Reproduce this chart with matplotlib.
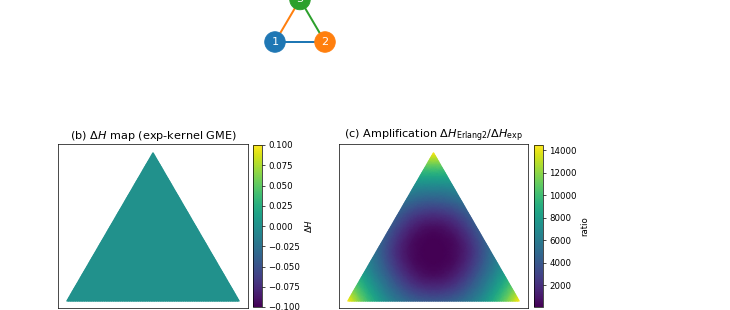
import numpy as np
import matplotlib
matplotlib.use('Agg')
import matplotlib.pyplot as plt
import matplotlib.tri as mtri

# (a) 3-node graph
node_labels = ['1', '2', '3']
node_x = [0.0, 1.0, 0.5]
node_y = [0.0, 0.0, 0.85]
node_colors = ['#1f77b4', '#ff7f0e', '#2ca02c']
edges = [(0, 1), (0, 2), (1, 2)]
edge_colors = ['#1f77b4', '#ff7f0e', '#2ca02c']

# simplex lattice (6 subdivisions), rows from bottom edge to top vertex
n_sub = 6
# (b) Delta H, exp-kernel GME: zero everywhere
dH_vals = [0.0] * 28
# (c) amplification ratio
ratio_vals = [
    14450, 8500, 5100, 4000, 5100, 8500, 14450,
    8500, 4000, 1000, 1000, 4000, 8500,
    5100, 1000, 60, 1000, 5100,
    4000, 1000, 1000, 4000,
    5100, 4000, 5100,
    8500, 8500,
    14450,
]

W, H = 730, 310


def px_rect(l, t, r, b):
    return [l / W, (H - b) / H, (r - l) / W, (b - t) / H]


px, py = [], []
for j in range(n_sub + 1):
    for i in range(n_sub + 1 - j):
        px.append((i + 0.5 * j) / n_sub)
        py.append(j * np.sqrt(3) / 2 / n_sub)
tri = mtri.Triangulation(px, py)
refiner = mtri.UniformTriRefiner(tri)

fig = plt.figure(figsize=(W / 62.5, H / 62.5), dpi=62.5)

# panel (a)
ax_a = fig.add_axes(px_rect(250, -8, 350, 92))
for (a, b), c in zip(edges, edge_colors):
    ax_a.plot([node_x[a], node_x[b]], [node_y[a], node_y[b]], color=c, lw=2.3, zorder=1)
ax_a.scatter(node_x, node_y, s=560, c=node_colors, zorder=2)
for x, y, lab in zip(node_x, node_y, node_labels):
    ax_a.text(x, y, lab, color='white', fontsize=13, ha='center', va='center', zorder=3)
ax_a.set_xlim(-0.5, 1.5)
ax_a.set_ylim(-1.0, 1.0)
ax_a.axis('off')

# panel (b)
ax_b = fig.add_axes(px_rect(58, 144, 248, 308))
tri_f, z_f = refiner.refine_field(np.array(dH_vals), subdiv=4)
im_b = ax_b.tripcolor(tri_f, z_f, shading='gouraud', cmap='viridis', vmin=-0.1, vmax=0.1)
ax_b.set_xlim(-0.05, 1.05)
ax_b.set_ylim(-0.04, 0.916)
ax_b.set_xticks([])
ax_b.set_yticks([])
ax_b.set_title(r'(b) $\Delta H$ map (exp-kernel GME)', fontsize=13)
cax_b = fig.add_axes(px_rect(253, 145, 262, 307))
cb_b = fig.colorbar(im_b, cax=cax_b)
cb_b.set_label(r'$\Delta H$')

# panel (c)
ax_c = fig.add_axes(px_rect(339, 144, 528, 308))
tri_f, z_f = refiner.refine_field(np.array(ratio_vals, dtype=float), subdiv=4)
im_c = ax_c.tripcolor(tri_f, z_f, shading='gouraud', cmap='viridis',
                      vmin=min(ratio_vals), vmax=max(ratio_vals))
ax_c.set_xlim(-0.05, 1.05)
ax_c.set_ylim(-0.04, 0.916)
ax_c.set_xticks([])
ax_c.set_yticks([])
ax_c.set_title(r'(c) Amplification $\Delta H_{\rm Erlang2}/\Delta H_{\rm exp}$', fontsize=13)
cax_c = fig.add_axes(px_rect(534, 145, 543, 307))
cb_c = fig.colorbar(im_c, cax=cax_c)
cb_c.set_label('ratio')

fig.savefig('out.png', dpi=62.5)
